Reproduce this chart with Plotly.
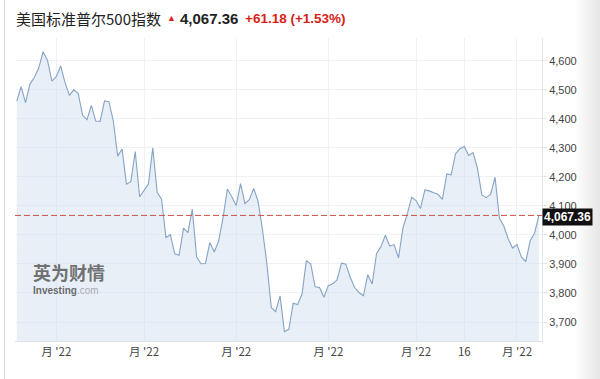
import plotly.graph_objects as go

dates = ["Mar 21","Mar 22","Mar 23","Mar 24","Mar 25","Mar 28","Mar 29","Mar 30","Mar 31",
 "Apr 1","Apr 4","Apr 5","Apr 6","Apr 7","Apr 8","Apr 11","Apr 12","Apr 13","Apr 14","Apr 18","Apr 19","Apr 20","Apr 21","Apr 22","Apr 25","Apr 26","Apr 27","Apr 28","Apr 29",
 "May 2","May 3","May 4","May 5","May 6","May 9","May 10","May 11","May 12","May 13","May 16","May 17","May 18","May 19","May 20","May 23","May 24","May 25","May 26","May 27","May 31",
 "Jun 1","Jun 2","Jun 3","Jun 6","Jun 7","Jun 8","Jun 9","Jun 10","Jun 13","Jun 14","Jun 15","Jun 16","Jun 17","Jun 21","Jun 22","Jun 23","Jun 24","Jun 27","Jun 28","Jun 29","Jun 30",
 "Jul 1","Jul 5","Jul 6","Jul 7","Jul 8","Jul 11","Jul 12","Jul 13","Jul 14","Jul 15","Jul 18","Jul 19","Jul 20","Jul 21","Jul 22","Jul 25","Jul 26","Jul 27","Jul 28","Jul 29",
 "Aug 1","Aug 2","Aug 3","Aug 4","Aug 5","Aug 8","Aug 9","Aug 10","Aug 11","Aug 12","Aug 15","Aug 16","Aug 17","Aug 18","Aug 19","Aug 22","Aug 23","Aug 24","Aug 25","Aug 26","Aug 29","Aug 30","Aug 31",
 "Sep 1","Sep 2","Sep 6","Sep 7","Sep 8","Sep 9"]

closes = [4461.18,4511.61,4456.24,4520.16,4543.06,4575.52,4631.60,4602.45,4530.41,
 4545.86,4582.64,4525.12,4481.15,4500.21,4488.28,4412.53,4397.45,4446.59,4392.59,4391.69,4462.21,4459.45,4393.66,4271.78,4296.12,4175.20,4183.96,4287.50,4131.93,
 4155.38,4175.48,4300.17,4146.87,4123.34,3991.24,4001.05,3935.18,3930.08,4023.89,4008.01,4088.85,3923.68,3900.79,3901.36,3973.75,3941.48,3978.73,4057.84,4158.24,4132.15,
 4101.23,4176.82,4108.54,4121.43,4160.68,4115.77,4017.82,3900.86,3749.63,3735.48,3789.99,3666.77,3674.84,3764.79,3759.89,3795.73,3911.74,3900.11,3821.55,3818.83,3785.38,
 3825.33,3831.39,3845.08,3902.62,3899.38,3854.43,3818.80,3801.78,3790.38,3863.16,3830.85,3936.69,3959.90,3998.95,3961.63,3966.84,3921.05,4023.61,4072.43,4130.29,
 4118.63,4091.19,4155.17,4151.94,4145.19,4140.06,4122.47,4210.24,4207.27,4280.15,4297.14,4305.20,4274.04,4283.74,4228.48,4137.99,4128.73,4140.77,4199.12,4057.66,4030.61,3986.16,3955.00,
 3966.85,3924.26,3908.19,3979.87,4006.18,4067.36]

tick_dates = ["Apr 1", "May 2", "Jun 1", "Jul 1", "Aug 1", "Aug 16", "Sep 1"]
tick_labels = ["月 '22", "月 '22", "月 '22", "月 '22", "月 '22", "16", "月 '22"]
y_ticks = [3700, 3800, 3900, 4000, 4100, 4200, 4300, 4400, 4500, 4600]
last_price = 4067.36
title_name = "美国标准普尔500指数"
title_price = "4,067.36"
title_change = "+61.18 (+1.53%)"

x_idx = list(range(len(dates)))
tick_idx = [dates.index(d) for d in tick_dates]

W, H = 600, 379
ML, MR, MT, MB = 15, 58, 38, 38
PW, PH = W - ML - MR, H - MT - MB

def px(x):
    return (x - ML) / PW

def py(y):
    return (H - MB - y) / PH

FONT = "Liberation Sans, Arial, Noto Sans CJK SC, sans-serif"
CJK = "Noto Sans CJK SC, Liberation Sans, sans-serif"

fig = go.Figure()
fig.add_trace(go.Scatter(
    x=x_idx, y=closes, mode="lines",
    line=dict(color="#86a3c6", width=1.1),
    fill="tozeroy", fillcolor="rgba(214,225,240,0.55)",
    hoverinfo="skip", showlegend=False,
))

shapes = []
# right gradient shadow
for i in range(12):
    x0 = 576 + i * 2
    shapes.append(dict(type="rect", xref="paper", yref="paper",
                       x0=px(x0), x1=px(W + 2), y0=py(H + 2), y1=py(-2),
                       fillcolor="rgba(200,200,200,0.035)", line=dict(width=0), layer="below"))
# left border line
shapes.append(dict(type="line", xref="paper", yref="paper",
                   x0=px(4.5), x1=px(4.5), y0=py(0), y1=py(H),
                   line=dict(color="#dcdcdc", width=1)))
# dashed last price line
shapes.append(dict(type="line", xref="paper", yref="y",
                   x0=0, x1=1, y0=last_price, y1=last_price,
                   line=dict(color="#d0504a", width=1, dash="6px,3px")))

annotations = [
    dict(text=title_name, x=px(14), y=py(18), xref="paper", yref="paper",
         xanchor="left", yanchor="middle", showarrow=False,
         font=dict(family=CJK, size=15, color="#222")),
    dict(text="▲", x=px(165), y=py(18.5), xref="paper", yref="paper",
         xanchor="left", yanchor="middle", showarrow=False,
         font=dict(family=FONT, size=9, color="#d91e18")),
    dict(text="<b>" + title_price + "</b>", x=px(178), y=py(18), xref="paper", yref="paper",
         xanchor="left", yanchor="middle", showarrow=False,
         font=dict(family=FONT, size=15, color="#222")),
    dict(text="<b>" + title_change + "</b>", x=px(243), y=py(18), xref="paper", yref="paper",
         xanchor="left", yanchor="middle", showarrow=False,
         font=dict(family=FONT, size=13.5, color="#d91e18")),
    dict(text="<b>" + f"{last_price:,.2f}" + "</b>", x=1, y=last_price, xref="paper", yref="y",
         xanchor="left", yanchor="top", yshift=7, showarrow=False, bgcolor="#111",
         borderpad=1, font=dict(family=FONT, size=12, color="white")),
    dict(text="<b>英为财情</b>", x=px(31), y=py(272), xref="paper", yref="paper",
         xanchor="left", yanchor="middle", showarrow=False,
         font=dict(family=CJK, size=18, color="rgba(90,90,90,0.85)")),
    dict(text="<b>Investing</b><span style='color:rgba(120,120,120,0.7)'>.com</span>",
         x=px(31), y=py(290), xref="paper", yref="paper",
         xanchor="left", yanchor="middle", showarrow=False,
         font=dict(family=FONT, size=10, color="rgba(80,80,80,0.85)")),
]

fig.update_layout(
    width=W, height=H,
    margin=dict(l=ML, r=MR, t=MT, b=MB),
    paper_bgcolor="white", plot_bgcolor="white",
    shapes=shapes, annotations=annotations,
    showlegend=False,
    xaxis=dict(
        range=[-0.4, 119.7], tickmode="array", tickvals=tick_idx, ticktext=tick_labels,
        showgrid=True, gridcolor="#eef1f5", gridwidth=1,
        showline=True, linecolor="#dde1e6", linewidth=1,
        ticks="", zeroline=False, fixedrange=True,
        tickfont=dict(family=CJK, size=11.5, color="#444"),
    ),
    yaxis=dict(
        side="right", range=[3634.5, 4679], tickmode="array", tickvals=y_ticks,
        ticktext=[f"{v:,}" for v in y_ticks],
        showgrid=True, gridcolor="#eef1f5", gridwidth=1,
        showline=True, linecolor="#e2e5e9", linewidth=1,
        ticks="outside", ticklen=4, tickcolor="#e2e5e9",
        zeroline=False, fixedrange=True,
        tickfont=dict(family=FONT, size=11, color="#444"),
    ),
)

fig.write_html("out.html")
